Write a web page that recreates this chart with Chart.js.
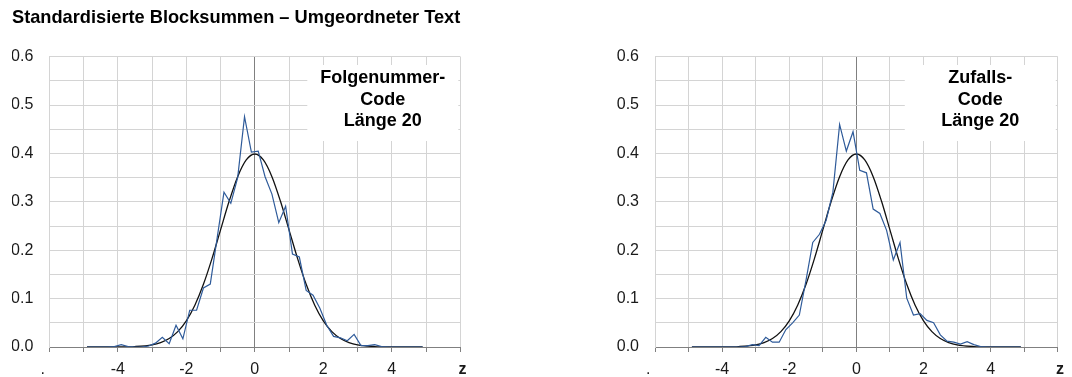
<!DOCTYPE html>
<html>
<head>
<meta charset="utf-8">
<script src="https://cdn.jsdelivr.net/npm/chart.js@4.4.1/dist/chart.umd.min.js"></script>
<style>
  html, body { margin: 0; padding: 0; background: #fff; }
  .wrap { position: absolute; top: 0; width: 536px; height: 377px; }
</style>
</head>
<body>
<div class="wrap" style="left:0"><canvas id="left"></canvas></div>
<div class="wrap" style="left:536px"><canvas id="right"></canvas></div>
<script>
// z classes (class mids)
const zValues = [-4.9, -4.7, -4.5, -4.3, -4.1, -3.9, -3.7, -3.5, -3.3, -3.1,
                 -2.9, -2.7, -2.5, -2.3, -2.1, -1.9, -1.7, -1.5, -1.3, -1.1,
                 -0.9, -0.7, -0.5, -0.3, -0.1, 0.1, 0.3, 0.5, 0.7, 0.9,
                 1.1, 1.3, 1.5, 1.7, 1.9, 2.1, 2.3, 2.5, 2.7, 2.9,
                 3.1, 3.3, 3.5, 3.7, 3.9, 4.1, 4.3, 4.5, 4.7, 4.9];

// Folgenummer-Code, Länge 20
const folgeValues = [0, 0, 0, 0, 0.001, 0.005, 0.001, 0, 0, 0.002,
                     0.008, 0.02, 0.007, 0.045, 0.017, 0.076, 0.076, 0.122, 0.13, 0.225,
                     0.32, 0.297, 0.35, 0.476, 0.403, 0.405, 0.352, 0.316, 0.257, 0.291,
                     0.192, 0.186, 0.117, 0.107, 0.08, 0.045, 0.022, 0.019, 0.013, 0.026,
                     0.003, 0.003, 0.005, 0.001, 0, 0, 0, 0, 0, 0];

// Zufalls-Code, Länge 20
const zufallValues = [0, 0, 0, 0, 0, 0, 0, 0, 0.001, 0.005,
                      0.003, 0.02, 0.01, 0.01, 0.036, 0.05, 0.066, 0.138, 0.216, 0.233,
                      0.262, 0.32, 0.46, 0.405, 0.445, 0.365, 0.36, 0.285, 0.276, 0.241,
                      0.18, 0.216, 0.101, 0.066, 0.069, 0.055, 0.05, 0.025, 0.012, 0.01,
                      0.006, 0.011, 0.005, 0.001, 0, 0, 0, 0, 0, 0];

// Normalverteilung
const curveZ = [-4.9, -4.5, -4, -3.5, -3, -2.75, -2.5, -2.25, -2, -1.75, -1.5, -1.25, -1, -0.75, -0.5, -0.25,
                0, 0.25, 0.5, 0.75, 1, 1.25, 1.5, 1.75, 2, 2.25, 2.5, 2.75, 3, 3.5, 4, 4.5, 4.9];
const curveY = [0, 0, 0.0001, 0.0009, 0.0044, 0.0091, 0.0175, 0.0317, 0.054, 0.0863, 0.1295, 0.1826, 0.242, 0.3011, 0.3521, 0.3867,
                0.3989, 0.3867, 0.3521, 0.3011, 0.242, 0.1826, 0.1295, 0.0863, 0.054, 0.0317, 0.0175, 0.0091, 0.0044, 0.0009, 0.0001, 0, 0];

const xTickLabels = { '-6': '.   ', '-4': '-4', '-2': '-2', '0': '0', '2': '2', '4': '4', '6': ' z' };
const yTickLabels = ['0.0', '0.1', '0.2', '0.3', '0.4', '0.5', '0.6'];

const FONT = "'Liberation Sans', Arial, sans-serif";
const GRID = '#d4d4d4';
const AXIS = '#808080';

// white label box in the upper right corner of the plot
const labelBox = {
  id: 'labelBox',
  beforeDatasetsDraw(chart, args, opts) {
    const a = chart.chartArea;
    const ctx = chart.ctx;
    const w = 151, h = 76;
    const x = a.right - w - 2, y = a.top + 8.3;
    ctx.save();
    ctx.fillStyle = '#fff';
    ctx.fillRect(x, y, w, h);
    ctx.fillStyle = '#000';
    ctx.font = 'bold 18px ' + FONT;
    ctx.textAlign = 'center';
    ctx.textBaseline = 'middle';
    opts.lines.forEach((t, i) => ctx.fillText(t, x + w / 2, y + 13.5 + i * 21.5));
    ctx.restore();
  }
};

function makeChart(id, values, lines, withTitle) {
  return new Chart(document.getElementById(id), {
    type: 'line',
    data: {
      datasets: [
        {
          label: 'Beobachtet',
          data: zValues.map((z, i) => ({ x: z, y: values[i] })),
          borderColor: '#2f5b9a',
          borderWidth: 1.2,
          pointRadius: 0,
          tension: 0
        },
        {
          label: 'Normalverteilung',
          data: curveZ.map((z, i) => ({ x: z, y: curveY[i] })),
          borderColor: '#111',
          borderWidth: 1.3,
          pointRadius: 0,
          cubicInterpolationMode: 'monotone'
        }
      ]
    },
    options: {
      responsive: true,
      maintainAspectRatio: false,
      animation: false,
      devicePixelRatio: 1,
      layout: {
        padding: withTitle
          ? { left: 12, right: 75.7, top: 0, bottom: 0 }
          : { left: 0, right: 7.5, top: 56.7, bottom: 0 }
      },
      scales: {
        x: {
          type: 'linear',
          min: -6,
          max: 6,
          afterFit: s => { s.height = 30; },
          afterBuildTicks: s => { s.ticks = [-6, -5, -4, -3, -2, -1, 0, 1, 2, 3, 4, 5, 6].map(v => ({ value: v })); },
          ticks: {
            autoSkip: false,
            maxRotation: 0,
            padding: 8,
            color: '#1a1a1a',
            font: c => ({ family: FONT, size: 16, weight: c.tick && c.tick.value === 6 ? 'bold' : 'normal' }),
            callback: v => xTickLabels[String(v)] || ''
          },
          grid: {
            color: c => (c.tick && c.tick.value === 0 ? AXIS : GRID),
            tickColor: AXIS,
            tickLength: 5
          },
          border: { color: AXIS }
        },
        y: {
          min: 0,
          max: 0.6,
          afterFit: s => { s.width = withTitle ? 37.3 : 119; },
          afterBuildTicks: s => { s.ticks = [0, 0.05, 0.1, 0.15, 0.2, 0.25, 0.3, 0.35, 0.4, 0.45, 0.5, 0.55, 0.6].map(v => ({ value: v })); },
          ticks: {
            padding: 16,
            color: '#1a1a1a',
            font: { family: FONT, size: 16 },
            callback: v => {
              const k = Math.round(v * 100);
              return k % 10 === 0 ? yTickLabels[k / 10] : '';
            }
          },
          grid: {
            color: c => (c.tick && c.tick.value === 0 ? AXIS : GRID),
            drawTicks: false
          },
          border: { color: GRID }
        }
      },
      plugins: {
        legend: { display: false },
        tooltip: { enabled: false },
        title: {
          display: withTitle,
          text: 'Standardisierte Blocksummen – Umgeordneter Text',
          align: 'start',
          color: '#000',
          font: { family: FONT, size: 18.5, weight: 'bold' },
          padding: { top: 7, bottom: 27.5 }
        },
        labelBox: { lines: lines }
      }
    },
    plugins: [labelBox]
  });
}

makeChart('left', folgeValues, ['Folgenummer-', 'Code', 'Länge 20'], true);
makeChart('right', zufallValues, ['Zufalls-', 'Code', 'Länge 20'], false);
</script>
</body>
</html>
